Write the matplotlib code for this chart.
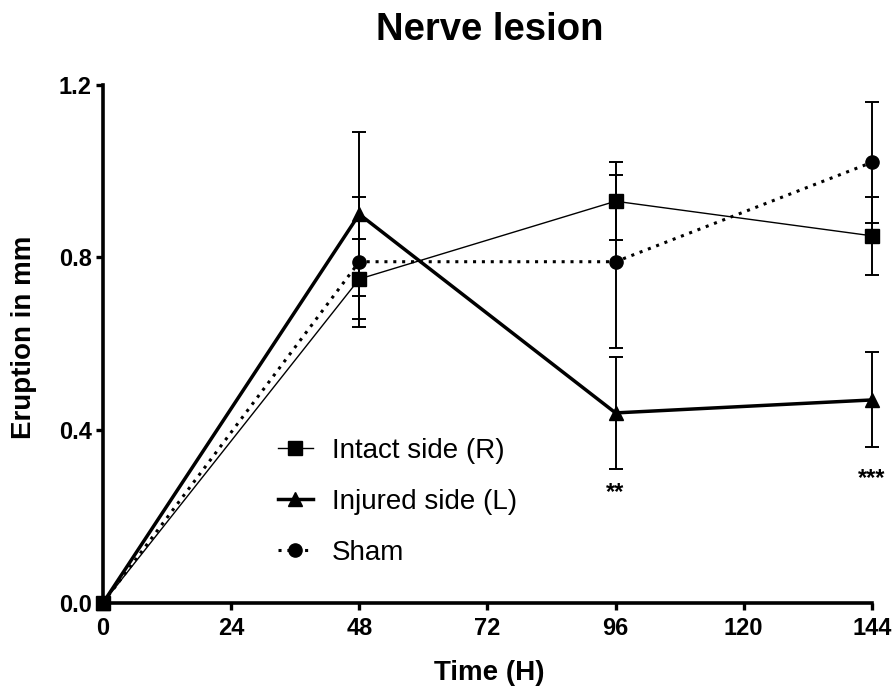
import numpy as np
import matplotlib
matplotlib.use("Agg")
import matplotlib.pyplot as plt
from matplotlib.lines import Line2D

plt.rcParams['font.family'] = ['Liberation Sans', 'DejaVu Sans']

# data
time_h = [0, 48, 96, 144]
intact = [0.0, 0.75, 0.93, 0.85]
intact_err = [0.0, 0.093, 0.09, 0.09]
injured = [0.0, 0.90, 0.44, 0.47]
injured_err = [0.0, 0.19, 0.13, 0.11]
sham = [0.0, 0.79, 0.79, 1.02]
sham_err = [0.0, 0.15, 0.20, 0.14]
stars = {96: '**', 144: '***'}
x_ticks = [0, 24, 48, 72, 96, 120, 144]
y_ticks = [0.0, 0.4, 0.8, 1.2]

fig = plt.figure(figsize=(8.94, 6.93), dpi=100)
ax = fig.add_axes([0.1152, 0.1299, 0.860, 0.748])

ms = 9.5
common = dict(color='black', ecolor='black', elinewidth=1.4, capsize=4.7,
              capthick=1.4, clip_on=False)

e1 = ax.errorbar(time_h, intact, yerr=intact_err, fmt='s', linestyle='-',
                 linewidth=1.0, markersize=ms, **common)
e2 = ax.errorbar(time_h, injured, yerr=injured_err, fmt='^', linestyle='-',
                 linewidth=2.5, markersize=10.5, **common)
e3 = ax.errorbar(time_h, sham, yerr=sham_err, fmt='o', linestyle=(0, (1, 1.9)),
                 linewidth=2.2, markersize=ms, **common)

for c in (e1, e2, e3):
    for art in c.lines[1] + c.lines[2]:
        art.set_clip_on(False)

for t, s in stars.items():
    i = time_h.index(t)
    off = -17 if t == 96 else -22
    ax.annotate(s, xy=(t, injured[i] - injured_err[i]), xytext=(0, off),
                textcoords='offset points', ha='center', va='center',
                fontsize=17, fontweight='bold')

ax.set_xlim(0, 144)
ax.set_ylim(0, 1.2)
ax.set_xticks(x_ticks)
ax.set_yticks(y_ticks)
ax.set_yticklabels(['%.1f' % v for v in y_ticks])

for side in ('top', 'right'):
    ax.spines[side].set_visible(False)
for side in ('left', 'bottom'):
    ax.spines[side].set_linewidth(2.6)
ax.tick_params(axis='both', direction='out', length=5, width=2.4, labelsize=17)
ax.tick_params(axis='x', pad=5)
ax.tick_params(axis='y', pad=3)
for lab in ax.get_xticklabels() + ax.get_yticklabels():
    lab.set_fontweight('bold')

fig.text(489 / 894, 1 - 673.4 / 693, 'Time (H)', ha='center', va='center',
         fontsize=20, fontweight='bold')
fig.text(23.6 / 894, 1 - 337 / 693, 'Eruption in mm', ha='center', va='center',
         rotation=90, fontsize=20, fontweight='bold')
fig.text(489.5 / 894, 1 - 29.7 / 693, 'Nerve lesion', ha='center', va='center',
         fontsize=27.5, fontweight='bold')

handles = [
    Line2D([], [], color='black', marker='s', markersize=ms, linewidth=1.0),
    Line2D([], [], color='black', marker='^', markersize=10.5, linewidth=2.5),
    Line2D([], [], color='black', marker='o', markersize=ms, linewidth=2.2,
           linestyle=(0, (1, 1.9))),
]
labels = ['Intact side (R)', 'Injured side (L)', 'Sham']
ax.legend(handles, labels, loc='center left', bbox_to_anchor=(0.2276, 0.195),
          frameon=False, fontsize=20, handlelength=1.26, handletextpad=0.68,
          labelspacing=0.9, borderpad=0, borderaxespad=0)

fig.savefig('out.png', dpi=100)
